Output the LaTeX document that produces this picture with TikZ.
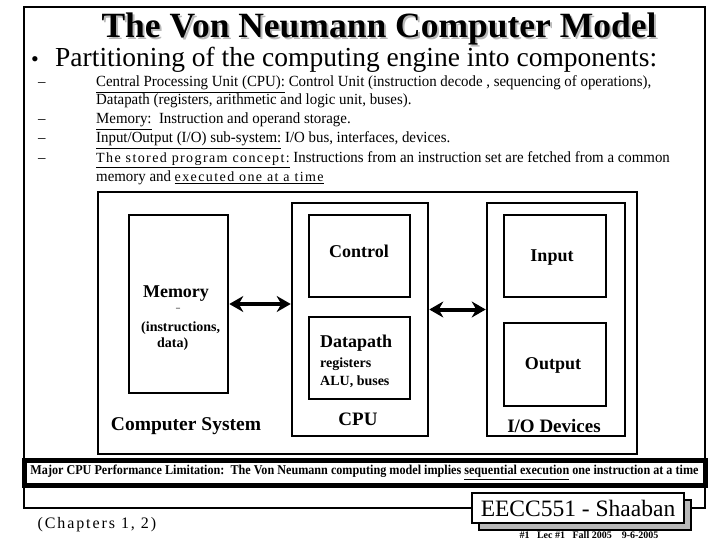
\documentclass[tikz,border=0pt]{standalone}
\usepackage{fontspec}
\setmainfont{Liberation Serif}
\newfontfamily\narrowfont[FakeStretch=0.96, Ligatures=TeX]{Liberation Serif}
\newfontfamily\condfont[FakeStretch=0.9]{Liberation Serif}
\newfontfamily\spacedfont[LetterSpace=10, Ligatures=TeX]{Liberation Serif}
\newfontfamily\widefont[LetterSpace=12]{Liberation Serif}
\usetikzlibrary{arrows.meta,positioning}
\newcommand{\shadowtext}[1]{\makebox[0pt][l]{\hspace{2pt}\raisebox{-2pt}{\textcolor{gray!55}{#1}}}#1}

\begin{document}
\begin{tikzpicture}[
    x=1pt, y=-1pt,
    >=Stealth,
    box/.style={draw, line width=2.6pt, inner sep=0pt},
    lbl/.style={font=\bfseries\fontsize{18}{20}\selectfont, inner sep=0pt},
    small/.style={font=\bfseries\fontsize{14}{16}\selectfont, inner sep=0pt, anchor=base west},
    item/.style={font=\narrowfont\fontsize{15.5}{18}\selectfont, inner sep=0pt, anchor=base west},
    bus/.style={line width=4pt, {Stealth[length=14pt,width=16pt]}-{Stealth[length=14pt,width=16pt]}}
]
\useasboundingbox (0,0) rectangle (720,540);

% slide frame and heading
\draw[line width=2.6pt] (24,7) rectangle (705,508);
\node[anchor=base, font=\bfseries\fontsize{35.5}{40}\selectfont] (title) at (379,38) {\shadowtext{The Von Neumann Computer Model}};
\node[anchor=base, font=\fontsize{22}{24}\selectfont] (bullet) at (35,67) {•};
\node[anchor=base west, inner sep=0pt, font=\fontsize{27.5}{30}\selectfont] (part) at (55,67) {Partitioning of the computing engine into components:};

% sub items
\foreach \yy in {87,124,143,163}
    \node[item] at (38,\yy) {--};
\node[item] (l1) at (96,87) {\underline{Central Processing Unit (CPU):} Control Unit (instruction decode , sequencing of operations),};
\node[item] (l2) at (96,105) {Datapath (registers, arithmetic and logic unit, buses).};
\node[item] (l3) at (96,124) {\underline{Memory:}\ \ Instruction and operand storage.};
\node[item] (l4) at (96,143) {\underline{Input/Output (I/O) sub-system:} I/O bus, interfaces, devices.};
\node[item] (l5) at (96,163) {\underline{{\spacedfont\fontsize{14}{16}\selectfont The stored program concept:}} Instructions from an instruction set are fetched from a common};
\node[item] (l6) at (96,182) {memory and \underline{{\spacedfont\fontsize{14}{16}\selectfont executed one at a time}}};

% computer system
\node[box, minimum width=539pt, minimum height=262pt] (sys) at (367.5,323) {};
\node[box, minimum width=99pt, minimum height=178pt] (mem) at (178.5,304) {};
\node[box, minimum width=136pt, minimum height=233pt] (cpu) at (360,319.5) {};
\node[box, minimum width=101pt, minimum height=82pt] (ctrl) at (359.5,256) {};
\node[box, minimum width=101pt, minimum height=82pt] (dp) at (359.5,358) {};
\node[box, minimum width=138pt, minimum height=233pt] (io) at (556,319.5) {};
\node[box, minimum width=102pt, minimum height=82pt] (in) at (555,256) {};
\node[box, minimum width=102pt, minimum height=83pt] (out) at (555,364.5) {};

\node[lbl] (memtxt) at (176,294) {Memory};
\node[font=\bfseries\fontsize{8}{8}\selectfont, inner sep=0pt] (dash) at (178,309) {--};
\node[small] (instr) at (141,331) {(instructions,};
\node[small] (data) at (157,347) {data)};
\node[lbl, font=\bfseries\fontsize{19.5}{21}\selectfont] (systxt) at (186,426) {Computer System};
\node[lbl] (ctrltxt) at (359,251) {Control};
\node[lbl, anchor=base west] (dptxt) at (320,347) {Datapath};
\node[small] (reg) at (320,367) {registers};
\node[small] (alu) at (320,385) {ALU, buses};
\node[lbl, font=\bfseries\fontsize{19}{21}\selectfont] (cputxt) at (358,419) {CPU};
\node[lbl] (intxt) at (552,258) {Input};
\node[lbl] (outtxt) at (553,365) {Output};
\node[lbl, font=\bfseries\fontsize{19}{21}\selectfont] (iotxt) at (554,426) {I/O Devices};

\draw[bus] (mem.east) -- (mem.east -| cpu.west);
\draw[bus] ([yshift=10pt]cpu.east) -- ([yshift=10pt]io.west);

% limitation banner
\node[draw, line width=5pt, fill=white, minimum width=681pt, minimum height=25pt, inner sep=0pt,
      font=\condfont\bfseries\fontsize{13.5}{15}\selectfont] (banner) at (364.5,472.5)
    {Major CPU Performance Limitation:\ \ The Von Neumann computing model implies \underline{sequential execution} one instruction at a time};

% footer
\node[draw, line width=2pt, fill=gray!55, minimum width=212pt, minimum height=30pt] (shade) at (585,515) {};
\node[draw, line width=2pt, fill=white, minimum width=212pt, minimum height=30pt, font=\fontsize{23.5}{26}\selectfont] (eecc) at (578,508) {EECC551 - Shaaban};
\node[anchor=base west, font=\widefont\fontsize{16}{18}\selectfont] (chap) at (34,528) {(Chapters 1, 2)};
\node[anchor=base, font=\bfseries\fontsize{10}{11}\selectfont] (lec) at (589,538) {\#1\ \ \ Lec \#1\ \ \ Fall 2005\ \ \ \ 9-6-2005};
\end{tikzpicture}
\end{document}
